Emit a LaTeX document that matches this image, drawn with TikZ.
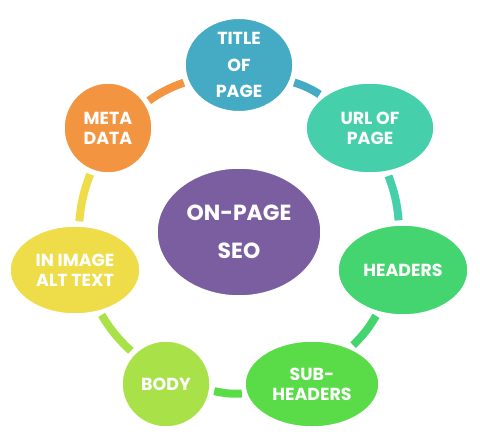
\documentclass[tikz,border=0pt]{standalone}
\usepackage{fontspec}
\setmainfont{Poppins}
\usetikzlibrary{shapes.geometric}
\definecolor{cTitle}{HTML}{45AAC4}
\definecolor{cUrl}{HTML}{45CFAA}
\definecolor{cMeta}{HTML}{F39440}
\definecolor{cHead}{HTML}{45D570}
\definecolor{cSub}{HTML}{5ADC48}
\definecolor{cBody}{HTML}{A8E248}
\definecolor{cImg}{HTML}{EEDC48}
\definecolor{cSeo}{HTML}{7B5EA0}
\tikzset{
  x=1bp, y=1bp,
  blob/.style={ellipse, draw=white, line width=1.5bp, fill=#1, inner sep=0pt,
    text=white, align=center, font=\bfseries\fontsize{17.5}{20}\selectfont},
  conn/.style={draw=#1, line width=8bp, line cap=butt, shorten <=4bp, shorten >=4bp},
}
\begin{document}
\begin{tikzpicture}
\useasboundingbox (0,0) rectangle (480,-448);
\node[blob=cTitle, minimum width=108bp, minimum height=90bp, font=\bfseries\fontsize{17.5}{27}\selectfont] (title) at (239,-65) {TITLE\\OF\\PAGE};
\node[blob=cUrl, minimum width=128bp, minimum height=90bp] (url) at (370,-128) {URL OF\\PAGE};
\node[blob=cMeta, minimum width=88bp, minimum height=90bp] (meta) at (108,-128) {META\\DATA};
\node[blob=cSeo, minimum width=164bp, minimum height=128bp, font=\bfseries\fontsize{22}{38}\selectfont] (seo) at (239,-232) {ON-PAGE\\SEO};
\node[blob=cHead, minimum width=130bp, minimum height=90bp] (head) at (403,-270) {HEADERS};
\node[blob=cImg, minimum width=130bp, minimum height=88bp] (img) at (75,-270) {IN IMAGE\\ALT TEXT};
\node[blob=cBody, minimum width=88bp, minimum height=86bp] (body) at (166,-384) {BODY};
\node[blob=cSub, minimum width=134bp, minimum height=86bp] (sub) at (312,-384) {SUB-\\HEADERS};
\draw[conn=cMeta] (meta) to[bend left=8] (title);
\draw[conn=cTitle] (title) to[bend left=8] (url);
\draw[conn=cUrl] (url) to[bend left=8] (head);
\draw[conn=cHead] (head) to[bend left=8] (sub);
\draw[conn=cSub] (sub) to[bend left=8] (body);
\draw[conn=cBody] (body) to[bend left=8] (img);
\draw[conn=cImg] (img) to[bend left=8] (meta);
\end{tikzpicture}
\end{document}
